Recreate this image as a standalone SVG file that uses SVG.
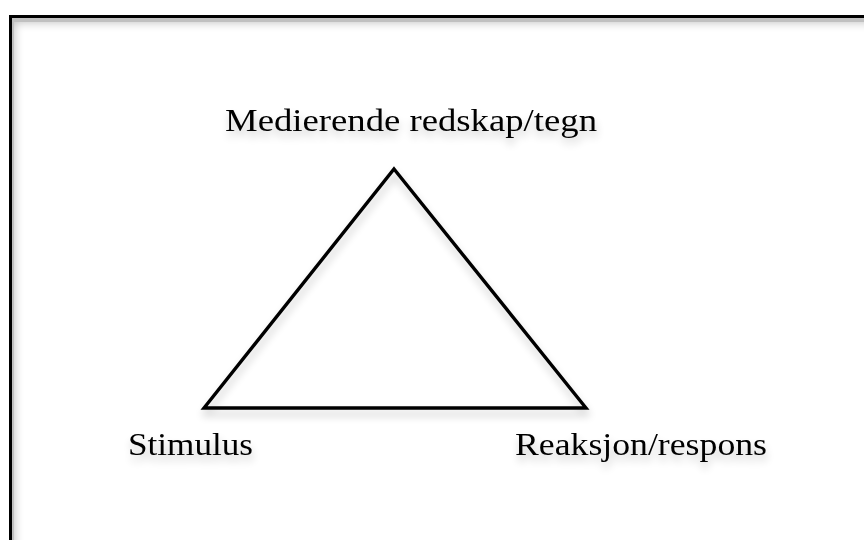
<svg xmlns="http://www.w3.org/2000/svg" width="864" height="540" viewBox="0 0 864 540">
  <defs>
    <filter id="soft" x="-20%" y="-30%" width="140%" height="180%">
      <feGaussianBlur in="SourceAlpha" stdDeviation="4"/>
      <feOffset dx="1" dy="6" result="b"/>
      <feComponentTransfer><feFuncA type="linear" slope="0.22"/></feComponentTransfer>
      <feMerge><feMergeNode/><feMergeNode in="SourceGraphic"/></feMerge>
    </filter>
    <filter id="inner" x="0" y="0" width="100%" height="100%">
      <feGaussianBlur in="SourceAlpha" stdDeviation="5"/>
      <feOffset dx="4" dy="6"/>
      <feComposite operator="out" in="SourceAlpha"/>
      <feComponentTransfer><feFuncA type="linear" slope="0.25"/></feComponentTransfer>
      <feComposite operator="in" in2="SourceAlpha"/>
    </filter>
    <style>
      .lbl { font-family: "Liberation Serif", "DejaVu Serif", serif; font-size: 32px; fill: #000; }
      .edge { fill: none; stroke: #000; stroke-width: 3.4; stroke-linejoin: miter; }
    </style>
  </defs>
  <rect width="864" height="540" fill="#fff"/>
  <!-- frame with inset shading -->
  <g id="frame">
    <rect x="10.5" y="16.5" width="900" height="600" fill="#fff" filter="url(#inner)"/>
    <rect x="10.5" y="16.5" width="900" height="600" fill="none" stroke="#000" stroke-width="3"/>
  </g>
  <!-- triangle sides -->
  <g id="connectors" filter="url(#soft)">
    <polygon class="edge" points="394,169 586,408 204,408"/>
  </g>
  <g id="mediator" filter="url(#soft)">
    <text class="lbl" x="225" y="131" textLength="372" lengthAdjust="spacingAndGlyphs">Medierende redskap/tegn</text>
  </g>
  <g id="stimulus" filter="url(#soft)">
    <text class="lbl" x="128" y="455" textLength="125" lengthAdjust="spacingAndGlyphs">Stimulus</text>
  </g>
  <g id="response" filter="url(#soft)">
    <text class="lbl" x="515" y="455" textLength="252" lengthAdjust="spacingAndGlyphs">Reaksjon/respons</text>
  </g>
</svg>
